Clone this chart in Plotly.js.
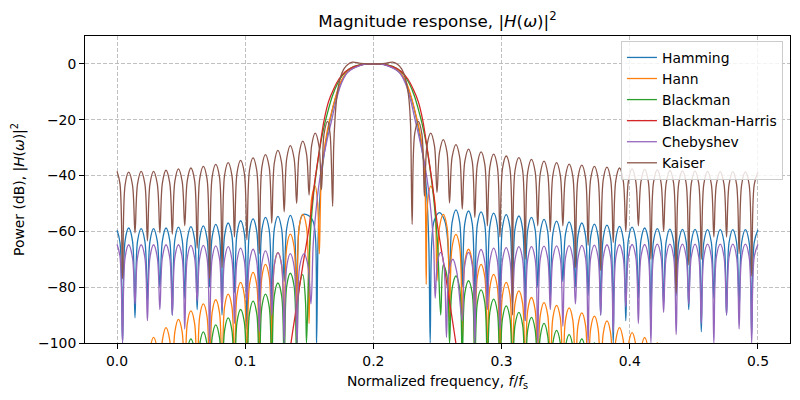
<!DOCTYPE html>
<html><head><meta charset="utf-8">
<script src="https://cdn.plot.ly/plotly-3.0.1.min.js"></script>
<style>html,body{margin:0;padding:0;background:#fff}#chart{width:800px;height:400px}</style>
</head><body><div id="chart"></div>
<script>
// Window names (legend)
const names = ['Hamming','Hann','Blackman','Blackman-Harris','Chebyshev','Kaiser'];

// Shared frequency grid of the lower stop band (nulls, shoulders, peaks), f/fs
const lowF = [0, 0.0023,
 0.0043,0.0063,0.0091,0.0120, 0.0140,0.0160,0.0188,0.0217, 0.0237,0.0257,0.0285,0.0314,
 0.0334,0.0354,0.0382,0.0411, 0.0431,0.0451,0.0479,0.0508, 0.0528,0.0548,0.0576,0.0605,
 0.0625,0.0645,0.0673,0.0702, 0.0722,0.0742,0.0770,0.0799, 0.0819,0.0839,0.0867,0.0896,
 0.0916,0.0936,0.0964,0.0993, 0.1013,0.1033,0.1061,0.1090, 0.1110,0.1130,0.1158,0.1187,
 0.1207,0.1227,0.1255,0.1284, 0.1304,0.1324,0.1352,0.1381, 0.1401,0.1421,0.1449,0.1478,
 0.1498,0.1518,0.1546,0.1575, 0.1595,0.1615,0.1643,0.1662, 0.1682];

// Shared frequency grid of the upper stop band, f/fs
const highF = [
 0.2302,0.2322,0.2350,0.2378, 0.2398,0.2418,0.2447,0.2476, 0.2496,0.2516,0.2545,0.2574,
 0.2594,0.2614,0.2644,0.2673, 0.2693,0.2713,0.2742,0.2771, 0.2791,0.2811,0.2840,0.2869,
 0.2889,0.2909,0.2938,0.2967, 0.2987,0.3007,0.3036,0.3065, 0.3085,0.3105,0.3135,0.3164,
 0.3184,0.3204,0.3233,0.3262, 0.3282,0.3302,0.3331,0.3360, 0.3380,0.3400,0.3429,0.3458,
 0.3478,0.3498,0.3527,0.3556, 0.3576,0.3596,0.3626,0.3655, 0.3675,0.3695,0.3724,0.3753,
 0.3773,0.3793,0.3822,0.3851, 0.3871,0.3891,0.3920,0.3949, 0.3969,0.3989,0.4018,0.4047,
 0.4067,0.4087,0.4116,0.4145, 0.4165,0.4185,0.4215,0.4244, 0.4264,0.4284,0.4313,0.4342,
 0.4362,0.4382,0.4411,0.4440, 0.4460,0.4480,0.4509,0.4538, 0.4558,0.4578,0.4607,0.4636,
 0.4656,0.4676,0.4706,0.4735, 0.4755,0.4775,0.4804,0.4833, 0.4853,0.4873,0.4902,0.4931,
 0.4951,0.4971,0.5];

// ---- Hamming (dB) ----
const hammingLow = [-59.6,-64.0,
 -100,-63.3,-58.8,-63.3, -91,-63.5,-59.0,-63.5, -85,-63.5,-59.0,-63.5, -80,-63.3,-58.8,-63.3,
 -90,-63.0,-58.5,-63.0, -84,-62.8,-58.3,-62.8, -88,-62.5,-58.0,-62.5, -80,-62.0,-57.5,-62.0,
 -90,-61.5,-57.0,-61.5, -82,-60.7,-56.2,-60.7, -95,-60.0,-55.5,-60.0, -85,-59.5,-55.0,-59.5,
 -95,-59.1,-54.6,-59.1, -78,-58.8,-54.3,-58.8, -82,-58.5,-54.0];
const hammingMainF = [0.1500,0.1530,0.1548,0.1557,0.1568,0.1585,0.1605,0.1630,0.1660,0.1700,0.1750,0.1800,0.1900,
 0.2000,0.2100,0.2200,0.2250,0.2300,0.2340,0.2370,0.2395,0.2415,0.2432,0.2443,0.2455,0.2475,0.2516,0.2555,0.2577];
const hammingMainDB = [-54.5,-56.5,-62,-100,-64,-46,-36,-28,-20.5,-13,-6.5,-2.8,-0.4,
 0,-0.4,-2.8,-6.5,-13,-20.5,-28,-36,-46,-64,-100,-64,-56,-53.3,-56,-62];
const hammingHigh = [
 -75,-56.8,-52.3,-56.8, -80,-57.2,-52.7,-57.2, -90,-57.5,-53.0,-57.5, -85,-58.0,-53.5,-58.0,
 -100,-58.5,-54.0,-58.5, -84,-59.0,-54.5,-59.0, -92,-59.5,-55.0,-59.5, -80,-60.2,-55.7,-60.2,
 -84,-60.8,-56.3,-60.8, -78,-61.1,-56.6,-61.1, -80,-61.5,-57.0,-61.5, -83,-61.9,-57.4,-61.9,
 -90,-62.3,-57.8,-62.3, -100,-62.7,-58.2,-62.7, -92,-63.0,-58.5,-63.0, -84,-63.3,-58.8,-63.3,
 -95,-63.5,-59.0,-63.5, -86,-63.7,-59.2,-63.7, -83,-63.8,-59.3,-63.8, -88,-63.8,-59.3,-63.8,
 -96,-63.9,-59.4,-63.9, -84,-63.9,-59.4,-63.9, -90,-63.9,-59.4,-63.9, -88,-63.9,-59.4,-63.9,
 -97,-63.9,-59.4];

// ---- Hann (dB) ----
const hannLow = [-112,-117,
 -125,-109.5,-105,-109.5, -125,-106.5,-102,-106.5, -125,-102.5,-98,-102.5, -125,-99,-94.5,-99,
 -125,-96,-91.5,-96, -125,-93,-88.5,-93, -125,-90.5,-86,-90.5, -125,-89,-84.5,-89,
 -120,-87,-82.5,-87, -115,-82.8,-78.3,-82.8, -112,-79.2,-74.7,-79.2, -108,-76.3,-71.8,-76.3,
 -105,-72.1,-67.6,-72.1, -102,-65.5,-61,-65.5, -100,-58.4,-53.9,-58.4, -93,-48.3,-43.8];
const hannMainF = [0.1565,0.1578,0.1590,0.1610,0.1640,0.1670,0.1710,0.1750,0.1800,0.1900,0.2000,
 0.2100,0.2200,0.2250,0.2290,0.2330,0.2360,0.2390,0.2404,0.2412,0.2424,0.2447,0.2476];
const hannMainDB = [-50,-68,-45,-33,-24,-18,-11,-6,-2.7,-0.4,0,
 -0.4,-2.7,-6,-11,-18,-24,-33,-45,-79,-49,-43.8,-48.3];
const hannHigh = [
 -77.7,-58.4,-53.9,-58.4, -92,-65.6,-61.1,-65.6, -100,-70.9,-66.4,-70.9, -105,-76.3,-71.8,-76.3,
 -110,-79.9,-75.4,-79.9, -112,-82.8,-78.3,-82.8, -115,-85.8,-81.3,-85.8, -118,-88.2,-83.7,-88.2,
 -120,-90,-85.5,-90, -120,-91,-86.5,-91, -122,-91.9,-87.4,-91.9, -124,-93.7,-89.2,-93.7,
 -125,-94.9,-90.4,-94.9, -125,-96.6,-92.1,-96.6, -125,-99,-94.5,-99, -125,-100.8,-96.3,-100.8,
 -125,-102.6,-98.1,-102.6, -125,-104.5,-100,-104.5, -125,-106,-102,-106, -125,-108,-104,-108,
 -125,-110,-106,-110, -125,-111,-107,-111, -125,-112,-108,-112, -125,-113,-109,-113,
 -125,-114,-110,-114, -125,-114,-110];

// ---- Blackman (dB) ----
const blackmanLow = [-125,-125,
 -130,-125,-120,-125, -130,-120,-115,-120, -130,-114,-109.5,-114, -130,-109.5,-105,-109.5,
 -130,-105.5,-101,-105.5, -130,-103,-98.5,-103, -130,-100.5,-96,-100.5, -130,-98,-93.5,-98,
 -125,-95.5,-91,-95.5, -125,-92.5,-88,-92.5, -120,-89.5,-85,-89.5, -120,-87,-82.5,-87,
 -115,-83,-78.5,-83, -110,-79.5,-75,-79.5, -105,-80,-75.5];
const blackmanMainF = [0.1470,0.1478,0.1500,0.1530,0.1560,0.1590,0.1620,0.1645,0.1680,0.1720,0.1760,0.1810,0.1900,
 0.2000,0.2100,0.2190,0.2240,0.2280,0.2320,0.2355,0.2380,0.2410,0.2440,0.2470,0.2500,0.2525,0.2545,0.2574];
const blackmanMainDB = [-85,-100,-68,-48,-37,-28,-21.5,-17,-11.5,-7,-4,-1.8,-0.3,
 0,-0.3,-1.8,-4,-7,-11.5,-17,-21.5,-28,-37,-48,-64,-90,-72,-76];
const blackmanHigh = [
 -100,-80.5,-76,-80.5, -105,-82.2,-77.7,-82.2, -110,-85.5,-81,-85.5, -110,-88.8,-84.3,-88.8,
 -115,-91.2,-86.7,-91.2, -115,-93.5,-89,-93.5, -120,-95.3,-90.8,-95.3, -120,-97.5,-93,-97.5,
 -120,-100,-95.5,-100, -125,-101.5,-97,-101.5, -125,-103,-98.5,-103, -125,-104.5,-100,-104.5,
 -130,-110,-105,-110, -130,-110,-105,-110, -130,-112,-107,-112, -130,-112,-107,-112,
 -130,-114,-109,-114, -130,-114,-109,-114, -130,-115,-110,-115, -130,-115,-110,-115,
 -130,-115,-110,-115, -130,-115,-110,-115, -130,-115,-110,-115, -130,-115,-110,-115,
 -130,-115,-110];

// ---- Blackman-Harris (dB) ----
const bharrisMainF = [0.1300,0.1357,0.1400,0.1450,0.1500,0.1540,0.1575,0.1616,0.1650,0.1690,0.1730,0.1780,0.1850,0.1925,
 0.2000,0.2075,0.2150,0.2220,0.2270,0.2310,0.2350,0.2384,0.2425,0.2460,0.2500,0.2550,0.2600,0.2643,0.2700];
const bharrisMainDB = [-120,-100,-87,-72,-58,-43,-32,-20,-13.5,-9,-5.5,-2.8,-1.0,-0.2,
 0,-0.2,-1.0,-2.8,-5.5,-9,-13.5,-20,-32,-43,-58,-72,-87,-100,-120];

// ---- Chebyshev (dB) ----
const chebLow = [-64.6,-69.0,
 -100,-69.3,-64.8,-69.3, -86,-69.3,-64.8,-69.3, -92,-69.3,-64.8,-69.3, -88,-69.3,-64.8,-69.3,
 -90,-69.3,-64.8,-69.3, -95,-69.5,-65.0,-69.5, -85,-69.5,-65.0,-69.5, -100,-69.7,-65.2,-69.7,
 -88,-70.0,-65.5,-70.0, -93,-70.5,-66.0,-70.5, -85,-70.9,-66.4,-70.9, -96,-71.5,-67.0,-71.5,
 -90,-72.1,-67.6,-72.1, -100,-72.5,-68.0];
const chebMainF = [0.1381,0.1405,0.1425,0.1460,0.1490,0.1513,0.1530,0.1545,0.1570,0.1600,0.1635,0.1675,0.1710,0.1750,0.1800,0.1900,
 0.2000,0.2100,0.2200,0.2250,0.2290,0.2325,0.2365,0.2400,0.2430,0.2455,0.2470,0.2482,0.2500,0.2525,0.2550,0.2570,0.2590,0.2620,0.2650];
const chebMainDB = [-72.5,-100,-72.5,-68,-72.5,-86,-65,-56,-45,-36,-28,-20,-13,-7,-3,-0.5,
 0,-0.5,-3,-7,-13,-20,-28,-36,-45,-56,-65,-84,-71,-67.5,-72,-98,-74,-70,-74.5];
const chebHigh = [
 -92,-72,-67.5,-72, -100,-71,-66.5,-71, -88,-70.5,-66.0,-70.5, -95,-70.3,-65.8,-70.3,
 -86,-70.0,-65.5,-70.0, -92,-70.0,-65.5,-70.0, -100,-69.8,-65.3,-69.8, -88,-69.7,-65.2,-69.7,
 -94,-69.6,-65.1,-69.6, -86,-69.5,-65.0,-69.5, -100,-69.4,-64.9,-69.4, -90,-69.3,-64.8,-69.3,
 -96,-69.3,-64.8,-69.3, -87,-69.2,-64.7,-69.2, -93,-69.2,-64.7,-69.2, -100,-69.1,-64.6,-69.1,
 -89,-69.1,-64.6,-69.1, -97,-69.1,-64.6,-69.1, -86,-69.1,-64.6,-69.1, -93,-69.1,-64.6,-69.1,
 -100,-69.1,-64.6,-69.1, -90,-69.1,-64.6,-69.1, -95,-69.1,-64.6,-69.1, -100,-69.1,-64.6];

// ---- Kaiser (dB) ----
const kaiserLow = [-38.5,-43.0,
 -77,-43.3,-38.8,-43.3, -60.5,-43.0,-38.5,-43.0, -63.4,-43.0,-38.5,-43.0, -60.5,-42.6,-38.1,-42.6,
 -61,-42.1,-37.6,-42.1, -58,-41.8,-37.3,-41.8, -66,-41.2,-36.7,-41.2, -77,-40.5,-36.0,-40.5,
 -73,-39.9,-35.4,-39.9, -62,-39.1,-34.6,-39.1, -63,-38.2,-33.7,-38.2, -68,-37.0,-32.5,-37.0,
 -57,-35.5,-31.0,-35.5, -53,-33.8,-29.3,-33.8, -50,-32.2,-27.7,-32.2, -47,-29.3,-24.8,-29.3,
 -45,-25.1,-20.6,-25.1, -51];
const kaiserMainF = [0.1690,0.1700,0.1712,0.1725,0.1745,0.1770,0.1800,0.1836,0.1900,0.2000,
 0.2090,0.2150,0.2190,0.2220,0.2245,0.2265,0.2278,0.2290];
const kaiserMainDB = [-30,-20,-13,-8.5,-4.5,-1.8,-0.2,0.6,0.2,0.0,
 0.2,0.6,-0.2,-1.8,-4.5,-8.5,-13,-22];
const kaiserHigh = [
 -57.5,-25.1,-20.6,-25.1, -47.4,-29.3,-24.8,-29.3, -46,-31.6,-27.1,-31.6, -49.8,-33.4,-28.9,-33.4,
 -52,-35.0,-30.5,-35.0, -55,-36.0,-31.5,-36.0, -58,-36.8,-32.3,-36.8, -62,-37.5,-33.0,-37.5,
 -90,-38.1,-33.6,-38.1, -70,-38.7,-34.2,-38.7, -58,-39.3,-34.8,-39.3, -60,-39.9,-35.4,-39.9,
 -58,-40.4,-35.9,-40.4, -73,-40.8,-36.3,-40.8, -65,-41.2,-36.7,-41.2, -74,-41.5,-37.0,-41.5,
 -64,-41.8,-37.3,-41.8, -60,-42.1,-37.6,-42.1, -58,-42.3,-37.8,-42.3, -70,-42.5,-38.0,-42.5,
 -60,-42.7,-38.2,-42.7, -82,-42.8,-38.3,-42.8, -72,-42.9,-38.4,-42.9, -70,-43.0,-38.5,-43.0,
 -62,-43.1,-38.6,-43.1, -62,-43.1,-38.6,-43.1, -68,-43.2,-38.7,-43.2, -76,-43.2,-38.7];

// ---- build traces ----
const colors = ['#1f77b4','#ff7f0e','#2ca02c','#d62728','#9467bd','#8c564b'];
const parts = [
  [hammingLow, hammingMainF, hammingMainDB, hammingHigh],
  [hannLow, hannMainF, hannMainDB, hannHigh],
  [blackmanLow, blackmanMainF, blackmanMainDB, blackmanHigh],
  [[], bharrisMainF, bharrisMainDB, []],
  [chebLow, chebMainF, chebMainDB, chebHigh],
  [kaiserLow, kaiserMainF, kaiserMainDB, kaiserHigh]
];
const traces = parts.map((p, i) => {
  const [low, mf, mdb, high] = p;
  const x = lowF.slice(0, low.length).concat(mf, high.length ? highF.slice(highF.length - high.length) : []);
  const y = low.concat(mdb, high);
  return {x, y, name: names[i], type: 'scatter', mode: 'lines',
          line: {color: colors[i], width: 1.3, shape: 'spline', smoothing: 1}};
});

const axisCommon = {
  ticks: 'outside', ticklen: 5, tickwidth: 1, tickcolor: '#000',
  showline: true, mirror: true, linecolor: '#000', linewidth: 1,
  showgrid: true, gridcolor: '#b0b0b0', gridwidth: 0.8, griddash: '4px,2px',
  zeroline: false, tickfont: {size: 13.9, color: '#000'}
};

const layout = {
  width: 800, height: 400,
  margin: {l: 85, r: 10, t: 36, b: 57},
  paper_bgcolor: '#fff', plot_bgcolor: '#fff',
  font: {family: 'DejaVu Sans', size: 13.9, color: '#000'},
  title: {text: 'Magnitude response, |<i>H</i>(<i>ω</i>)|<sup>2</sup>', font: {size: 16.7, color: '#000'},
          x: 0.5, xref: 'paper', xanchor: 'center', y: 0.948, yref: 'container', yanchor: 'middle'},
  xaxis: Object.assign({}, axisCommon, {
    range: [-0.025, 0.525], tickvals: [0, 0.1, 0.2, 0.3, 0.4, 0.5], tickformat: '.1f',
    title: {text: 'Normalized frequency, <i>f</i>/<i>f</i><sub>s</sub>', font: {size: 13.9}, standoff: 8}
  }),
  yaxis: Object.assign({}, axisCommon, {
    range: [-100, 10], tickvals: [-100, -80, -60, -40, -20, 0],
    title: {text: 'Power (dB), |<i>H</i>(<i>ω</i>)|<sup>2</sup>', font: {size: 13.9}, standoff: 10}
  }),
  legend: {x: 0.99, xanchor: 'right', y: 0.984, yanchor: 'top',
           bgcolor: 'rgba(255,255,255,0.8)', bordercolor: '#cccccc', borderwidth: 1,
           font: {size: 13.9, color: '#000'}},
  showlegend: true
};

Plotly.newPlot('chart', traces, layout, {displayModeBar: false, staticPlot: true});
</script>
</body></html>
